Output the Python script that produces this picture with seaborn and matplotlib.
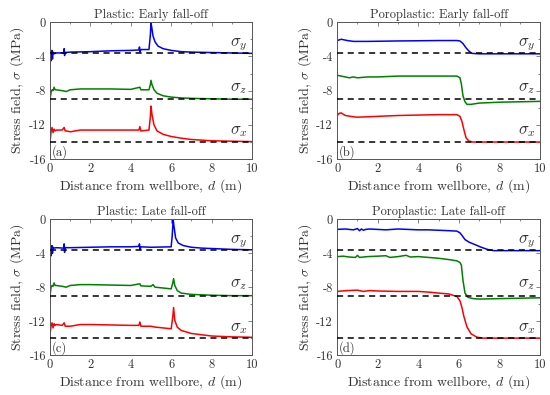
import numpy as np
import pandas as pd
import matplotlib
matplotlib.use('Agg')
import matplotlib.pyplot as plt
from matplotlib.ticker import MultipleLocator
import seaborn as sns

##########
#  Data  #
##########
# in-situ stresses (dashed lines), MPa
far_y = -3.6
far_z = -9.0
far_x = -14.0

# (a) plastic, early fall-off
a_y_d = [0.0, 0.03, 0.06, 0.09, 0.12, 0.15, 0.2, 0.3, 0.68, 0.7, 0.72, 0.74, 1.0, 2.0, 3.0, 4.0, 4.4, 4.43, 4.46, 4.5, 4.9, 4.97, 5.0, 5.05, 5.1, 5.2, 5.35, 5.6, 6.0, 6.5, 7.0, 8.0, 9.0, 10.0]
a_y_s = [-4.4, -3.4, -4.5, -3.3, -4.3, -3.5, -3.7, -3.6, -3.6, -3.1, -3.9, -3.55, -3.5, -3.45, -3.35, -3.3, -3.25, -2.9, -3.5, -3.2, -3.2, -1.5, -0.05, -0.8, -1.6, -2.3, -2.8, -3.1, -3.3, -3.45, -3.5, -3.55, -3.6, -3.65]
a_z_d = [0.0, 0.05, 0.1, 0.15, 0.2, 0.25, 0.3, 0.6, 0.8, 1.0, 1.5, 2.0, 3.0, 4.0, 4.45, 4.5, 4.9, 4.97, 5.0, 5.05, 5.15, 5.3, 5.6, 6.0, 6.5, 7.0, 8.0, 9.0, 10.0]
a_z_s = [-9.0, -8.2, -7.9, -8.0, -7.6, -7.9, -7.9, -8.0, -8.1, -7.9, -7.8, -7.8, -7.8, -7.85, -7.6, -7.9, -7.9, -7.3, -6.8, -7.3, -7.9, -8.3, -8.6, -8.75, -8.85, -8.9, -8.95, -9.0, -9.0]
a_x_d = [0.0, 0.05, 0.1, 0.15, 0.2, 0.25, 0.3, 0.6, 0.7, 0.75, 0.8, 1.0, 1.5, 2.0, 3.0, 4.0, 4.4, 4.45, 4.5, 4.9, 4.97, 5.0, 5.05, 5.15, 5.3, 5.6, 6.0, 6.5, 7.0, 8.0, 9.0, 10.0]
a_x_s = [-14.0, -12.8, -12.3, -12.9, -12.5, -12.7, -12.6, -12.6, -12.3, -12.7, -12.7, -12.8, -12.6, -12.6, -12.6, -12.6, -12.6, -12.2, -12.7, -12.6, -11.0, -9.8, -10.8, -12.0, -12.7, -13.1, -13.35, -13.55, -13.7, -13.85, -13.9, -13.95]

# (b) poroplastic, early fall-off
b_y_d = [0.0, 0.2, 0.5, 0.8, 1.5, 3.0, 5.0, 5.9, 6.05, 6.2, 6.35, 6.5, 6.65, 7.0, 8.0, 10.0]
b_y_s = [-2.15, -2.0, -2.15, -2.25, -2.25, -2.2, -2.15, -2.15, -2.2, -2.5, -3.0, -3.4, -3.65, -3.7, -3.7, -3.7]
b_z_d = [0.0, 0.2, 0.4, 0.6, 0.8, 1.0, 1.5, 2.0, 3.0, 4.0, 5.0, 5.9, 6.05, 6.12, 6.2, 6.3, 6.4, 6.6, 7.0, 8.0, 9.0, 10.0]
b_z_s = [-6.2, -6.3, -6.4, -6.5, -6.4, -6.5, -6.4, -6.4, -6.3, -6.3, -6.3, -6.3, -6.5, -7.2, -8.6, -9.3, -9.6, -9.6, -9.45, -9.35, -9.3, -9.25]
b_x_d = [0.0, 0.1, 0.2, 0.4, 0.8, 1.0, 2.0, 3.0, 4.0, 5.0, 5.9, 6.05, 6.15, 6.25, 6.35, 6.5, 6.7, 8.0, 10.0]
b_x_s = [-10.9, -10.65, -10.6, -10.9, -11.05, -11.1, -11.0, -10.9, -10.85, -10.8, -10.8, -11.0, -11.6, -12.6, -13.5, -13.9, -14.0, -14.0, -14.0]

# (c) plastic, late fall-off
c_y_d = [0.0, 0.03, 0.06, 0.09, 0.12, 0.15, 0.2, 0.3, 0.68, 0.7, 0.72, 0.74, 1.0, 2.0, 3.0, 4.0, 4.4, 4.43, 4.46, 4.5, 5.0, 6.0, 6.05, 6.1, 6.15, 6.22, 6.35, 6.6, 7.0, 7.5, 8.0, 9.0, 10.0]
c_y_s = [-4.2, -3.2, -4.3, -3.1, -4.0, -3.3, -3.4, -3.35, -3.4, -2.9, -3.9, -3.35, -3.35, -3.3, -3.25, -3.25, -3.2, -2.9, -3.6, -3.25, -3.3, -3.25, -2.0, -0.05, -1.0, -2.2, -2.8, -3.1, -3.3, -3.4, -3.45, -3.55, -3.6]
c_z_d = [0.0, 0.05, 0.1, 0.15, 0.2, 0.25, 0.3, 0.6, 0.8, 1.0, 1.5, 2.0, 3.0, 4.0, 4.45, 4.5, 5.0, 5.1, 5.2, 6.0, 6.08, 6.12, 6.18, 6.3, 6.5, 7.0, 8.0, 9.0, 10.0]
c_z_s = [-9.0, -8.0, -7.8, -7.9, -7.5, -7.8, -7.8, -7.9, -8.0, -7.8, -7.7, -7.7, -7.75, -7.8, -7.6, -7.85, -7.9, -7.7, -8.0, -8.2, -7.5, -7.0, -7.8, -8.4, -8.7, -8.85, -8.95, -9.0, -9.0]
c_x_d = [0.0, 0.05, 0.1, 0.15, 0.2, 0.25, 0.3, 0.6, 0.7, 0.75, 0.8, 1.0, 1.5, 2.0, 3.0, 4.0, 4.4, 4.45, 4.5, 5.0, 5.2, 6.0, 6.08, 6.12, 6.18, 6.3, 6.5, 7.0, 8.0, 9.0, 10.0]
c_x_s = [-13.5, -12.6, -12.2, -12.8, -12.3, -12.5, -12.4, -12.5, -12.2, -12.6, -12.6, -12.6, -12.4, -12.4, -12.45, -12.5, -12.5, -12.1, -12.6, -12.6, -12.7, -12.9, -11.5, -10.4, -11.9, -12.7, -13.1, -13.45, -13.75, -13.85, -13.9]

# (d) poroplastic, late fall-off (slightly noisy plateau)
d_y_d = [0.0, 0.4, 0.8, 1.0, 1.1, 1.2, 1.3, 1.4, 1.6, 2.0, 2.4, 3.0, 3.5, 4.0, 4.5, 5.0, 5.5, 5.9, 6.05, 6.15, 6.3, 6.5, 6.8, 7.1, 7.4, 7.7, 8.0, 10.0]
d_y_s = [-1.2, -1.15, -1.25, -1.1, -1.35, -1.15, -1.3, -1.2, -1.15, -1.2, -1.25, -1.15, -1.2, -1.25, -1.25, -1.3, -1.35, -1.4, -1.6, -1.9, -2.4, -2.7, -3.0, -3.3, -3.55, -3.7, -3.7, -3.7]
d_z_d = [0.0, 0.3, 0.6, 0.9, 1.0, 1.1, 1.5, 2.0, 2.4, 2.6, 3.0, 3.4, 3.6, 4.0, 4.5, 5.0, 5.5, 5.9, 6.05, 6.12, 6.2, 6.3, 6.45, 6.7, 7.0, 8.0, 10.0]
d_z_s = [-4.4, -4.35, -4.45, -4.5, -4.25, -4.5, -4.4, -4.35, -4.3, -4.5, -4.4, -4.25, -4.45, -4.4, -4.5, -4.6, -4.75, -4.9, -5.1, -5.4, -7.2, -8.7, -9.2, -9.35, -9.4, -9.35, -9.25]
d_x_d = [0.0, 0.5, 1.0, 1.3, 1.6, 2.0, 3.0, 4.0, 4.6, 5.0, 5.5, 5.9, 6.05, 6.15, 6.25, 6.4, 6.6, 6.9, 7.2, 8.0, 10.0]
d_x_s = [-8.5, -8.4, -8.35, -8.5, -8.4, -8.45, -8.5, -8.5, -8.6, -8.7, -8.8, -9.1, -9.6, -10.4, -11.5, -12.7, -13.5, -13.9, -14.0, -14.0, -14.0]

panels = [
    ('Plastic: Early fall-off', '(a)', a_y_d, a_y_s, a_z_d, a_z_s, a_x_d, a_x_s),
    ('Poroplastic: Early fall-off', '(b)', b_y_d, b_y_s, b_z_d, b_z_s, b_x_d, b_x_s),
    ('Plastic: Late fall-off', '(c)', c_y_d, c_y_s, c_z_d, c_z_s, c_x_d, c_x_s),
    ('Poroplastic: Late fall-off', '(d)', d_y_d, d_y_s, d_z_d, d_z_s, d_x_d, d_x_s),
]

############
#  Styling #
############
sns.set_style('white')
plt.rcParams['font.family'] = ['cmr10', 'DejaVu Serif']
plt.rcParams['mathtext.fontset'] = 'cm'
plt.rcParams['axes.unicode_minus'] = False
plt.rcParams['axes.formatter.use_mathtext'] = False

fig = plt.figure(figsize=(5.5, 3.95), dpi=100)

# axes boxes (left, bottom, width, height) in figure fractions
boxes = [
    (0.091, 0.597, 0.367, 0.347),
    (0.613, 0.597, 0.369, 0.347),
    (0.091, 0.101, 0.367, 0.344),
    (0.613, 0.101, 0.369, 0.344),
]

frame_col = '#555555'
text_col = '#333333'

for box, p in zip(boxes, panels):
    title, tag, yd, ys, zd, zs, xd, xs = p
    ax = fig.add_axes(box)

    # far-field dashed lines
    for far in [far_y, far_z, far_x]:
        ax.plot([0, 10], [far, far], color='black', linestyle=(0, (4, 3)), linewidth=1.1, zorder=3)

    df = pd.concat([
        pd.DataFrame({'d': yd, 's': ys, 'comp': 'y'}),
        pd.DataFrame({'d': zd, 's': zs, 'comp': 'z'}),
        pd.DataFrame({'d': xd, 's': xs, 'comp': 'x'}),
    ])
    sns.lineplot(data=df, x='d', y='s', hue='comp', palette={'y': 'blue', 'z': 'green', 'x': 'red'},
                 estimator=None, sort=False, linewidth=1.1, legend=False, ax=ax, zorder=2)

    ax.set_xlim(0, 10)
    ax.set_ylim(-16, 0)
    ax.xaxis.set_major_locator(MultipleLocator(2))
    ax.yaxis.set_major_locator(MultipleLocator(4))
    ax.xaxis.set_minor_locator(MultipleLocator(1))
    ax.yaxis.set_minor_locator(MultipleLocator(2))
    ax.tick_params(which='both', direction='in', top=True, right=True, color=frame_col,
                   labelsize=9, labelcolor=text_col, pad=3)
    ax.tick_params(which='major', length=3, width=0.5)
    ax.tick_params(which='minor', length=1.5, width=0.5)
    for sp in ax.spines.values():
        sp.set_color(frame_col)
        sp.set_linewidth(0.7)

    ax.set_title(title, fontsize=9, color=text_col, pad=3)
    ax.set_xlabel(r'Distance from wellbore, $d$ (m)', fontsize=10, color=text_col, labelpad=1)
    ax.set_ylabel(r'Stress field, $\sigma$ (MPa)', fontsize=10, color=text_col, labelpad=2)

    ax.text(9.35, -2.6, r'$\sigma_y$', fontsize=12, color=text_col, ha='center', va='center')
    ax.text(9.35, -7.7, r'$\sigma_z$', fontsize=12, color=text_col, ha='center', va='center')
    ax.text(9.35, -12.8, r'$\sigma_x$', fontsize=12, color=text_col, ha='center', va='center')
    ax.text(0.1, -15.2, tag, fontsize=9, color=text_col, ha='left', va='center')

fig.savefig('out.png', dpi=100)
